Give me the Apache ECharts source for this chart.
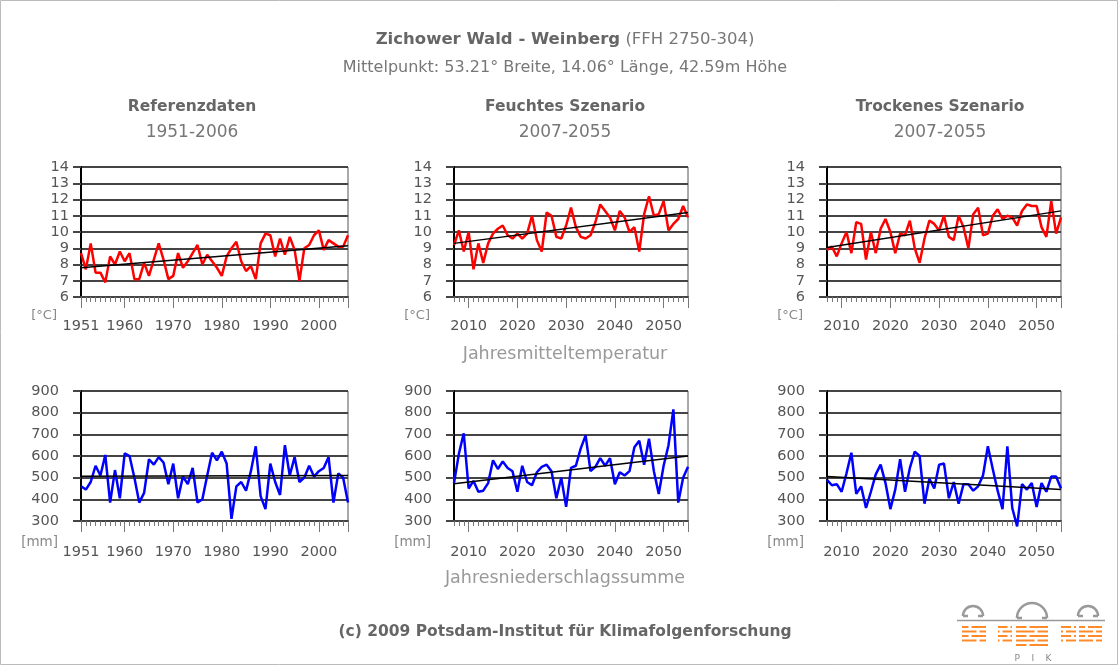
<!DOCTYPE html>
<html>
<head>
<meta charset="utf-8">
<title>Zichower Wald - Weinberg</title>
<script src="https://cdn.jsdelivr.net/npm/echarts@6/dist/echarts.min.js"></script>
<style>
  html, body { margin: 0; padding: 0; background: #fff; }
  #main { width: 1119px; height: 666px; }
</style>
</head>
<body>
<div id="main"></div>
<script>
// Referenzdaten 1951-2006
var refStart = 1951
var refEnd = 2006
var refTemp = [8.7, 7.7, 9.3, 7.5, 7.5, 6.9, 8.5, 8.0, 8.8, 8.2,
  8.7, 7.1, 7.1, 8.1, 7.3, 8.3, 9.3, 8.3, 7.1, 7.3,
  8.7, 7.8, 8.2, 8.7, 9.2, 8.0, 8.6, 8.2, 7.8, 7.3,
  8.5, 9.0, 9.4, 8.2, 7.6, 7.9, 7.1, 9.3, 9.9, 9.8,
  8.5, 9.6, 8.6, 9.7, 8.9, 7.0, 9.0, 9.2, 9.8, 10.1,
  8.9, 9.5, 9.3, 9.1, 9.1, 9.8]
var refPrec = [460, 445, 480, 555, 510, 605, 385, 535, 405, 612,
  600, 500, 385, 430, 585, 560, 595, 570, 470, 565,
  405, 505, 470, 545, 385, 400, 510, 615, 580, 620,
  565, 310, 460, 480, 440, 530, 645, 415, 355, 565,
  480, 420, 650, 510, 595, 480, 500, 555, 505, 530,
  545, 595, 385, 520, 500, 385]

// Szenarien 2007-2055
var scenStart = 2007
var scenEnd = 2055
var wetTemp = [9.2, 10.1, 8.8, 10.0, 7.7, 9.3, 8.1, 9.3, 9.9, 10.2,
  10.4, 9.8, 9.6, 9.9, 9.6, 9.9, 11.0, 9.5, 8.8, 11.2,
  11.0, 9.7, 9.6, 10.4, 11.5, 10.3, 9.7, 9.6, 9.8, 10.6,
  11.7, 11.3, 10.9, 10.1, 11.3, 10.9, 10.0, 10.3, 8.8, 11.1,
  12.2, 11.0, 11.1, 11.9, 10.1, 10.5, 10.8, 11.6, 10.9]
var dryTemp = [8.9, 9.1, 8.5, 9.3, 10.0, 8.7, 10.6, 10.5, 8.3, 10.0,
  8.7, 10.2, 10.8, 10.0, 8.7, 9.9, 9.8, 10.7, 9.0, 8.1,
  9.6, 10.7, 10.5, 10.1, 11.0, 9.7, 9.5, 11.0, 10.3, 9.0,
  11.1, 11.5, 9.8, 9.9, 11.0, 11.4, 10.8, 11.0, 10.9, 10.4,
  11.3, 11.7, 11.6, 11.6, 10.3, 9.7, 11.9, 9.9, 10.9]
var wetPrec = [475, 610, 705, 450, 485, 435, 440, 475, 580, 540,
  575, 545, 530, 435, 555, 480, 465, 525, 550, 560,
  530, 405, 500, 365, 545, 555, 635, 695, 530, 550,
  590, 555, 590, 470, 525, 510, 530, 640, 670, 560,
  680, 530, 425, 555, 650, 815, 385, 500, 550]
var dryPrec = [490, 465, 470, 435, 520, 615, 425, 460, 360, 435,
  515, 560, 475, 355, 445, 585, 435, 545, 620, 600,
  380, 495, 450, 560, 565, 405, 480, 380, 470, 470,
  440, 460, 510, 645, 540, 440, 355, 645, 360, 275,
  470, 445, 475, 365, 475, 435, 505, 505, 450]

// Trendlinien: Wert am Anfang und am Ende
var refTempTrend = [7.8, 9.15]
var wetTempTrend = [9.3, 11.2]
var dryTempTrend = [9.05, 11.3]
var refPrecTrend = [507, 510]
var wetPrecTrend = [472, 600]
var dryPrecTrend = [505, 445]

// Achsenbeschriftung
var refYearLabels = [1951, 1960, 1970, 1980, 1990, 2000]
var refMajorTicks = [1951, 1960, 1970, 1980, 1990, 2000, 2006]
var scenYearLabels = [2010, 2020, 2030, 2040, 2050]
var scenMajorTicks = [2010, 2020, 2030, 2040, 2050, 2055]

var FONT = 'DejaVu Sans'

// reihenfolge: oben links, mitte, rechts, unten links, mitte, rechts
var panels = [
  { start: refStart, end: refEnd, values: refTemp, trend: refTempTrend, labels: refYearLabels, ticks: refMajorTicks, kind: 'temp' },
  { start: scenStart, end: scenEnd, values: wetTemp, trend: wetTempTrend, labels: scenYearLabels, ticks: scenMajorTicks, kind: 'temp' },
  { start: scenStart, end: scenEnd, values: dryTemp, trend: dryTempTrend, labels: scenYearLabels, ticks: scenMajorTicks, kind: 'temp' },
  { start: refStart, end: refEnd, values: refPrec, trend: refPrecTrend, labels: refYearLabels, ticks: refMajorTicks, kind: 'prec' },
  { start: scenStart, end: scenEnd, values: wetPrec, trend: wetPrecTrend, labels: scenYearLabels, ticks: scenMajorTicks, kind: 'prec' },
  { start: scenStart, end: scenEnd, values: dryPrec, trend: dryPrecTrend, labels: scenYearLabels, ticks: scenMajorTicks, kind: 'prec' }
]

var gridLefts = [81, 454, 827]
var gridWidths = [267, 234, 234]
var gridTops = [167, 391]
var yLabelMargin = [12, 22, 22, 22, 22, 22]

var grid = []
var xAxis = []
var yAxis = []
var series = []

panels.forEach(function (p, i) {
  var col = i % 3
  var row = Math.floor(i / 3)
  grid.push({
    left: gridLefts[col],
    top: gridTops[row],
    width: gridWidths[col],
    height: 130,
    show: true,
    borderColor: '#555',
    borderWidth: 1,
    backgroundColor: '#fff'
  })
  // kleine Striche jedes Jahr
  xAxis.push({
    gridIndex: i,
    type: 'value',
    position: 'bottom',
    min: p.start,
    max: p.end,
    interval: 1,
    axisLine: { show: true, lineStyle: { color: '#444', width: 2 } },
    axisTick: { show: true, length: 5, lineStyle: { color: '#777', width: 1 } },
    axisLabel: { show: false },
    splitLine: { show: false }
  })
  // grosse Striche und Jahreszahlen
  xAxis.push({
    gridIndex: i,
    type: 'value',
    position: 'bottom',
    min: p.start,
    max: p.end,
    axisLine: { show: false },
    axisTick: { show: true, length: 11, customValues: p.ticks, lineStyle: { color: '#777', width: 1 } },
    axisLabel: {
      show: true,
      customValues: p.labels,
      formatter: function (v) { return String(v) },
      margin: row === 0 ? 22 : 24,
      fontFamily: FONT,
      fontSize: 14.5,
      color: '#555'
    },
    splitLine: { show: false }
  })
  var isTemp = p.kind === 'temp'
  yAxis.push({
    gridIndex: i,
    type: 'value',
    min: isTemp ? 6 : 300,
    max: isTemp ? 14 : 900,
    interval: isTemp ? 1 : 100,
    axisLine: { show: true, lineStyle: { color: '#000', width: 2 } },
    axisTick: { show: true, length: 8, lineStyle: { color: '#444', width: 2 } },
    axisLabel: { margin: yLabelMargin[i], fontFamily: FONT, fontSize: 14.5, color: '#555' },
    splitLine: { show: true, lineStyle: { color: '#444', width: 2 } }
  })
  series.push({
    type: 'line',
    xAxisIndex: i * 2,
    yAxisIndex: i,
    data: p.values.map(function (v, k) { return [p.start + k, v] }),
    showSymbol: false,
    clip: false,
    lineStyle: { color: isTemp ? '#ff0000' : '#0000ff', width: 2.5 },
    z: 3
  })
  series.push({
    type: 'line',
    xAxisIndex: i * 2,
    yAxisIndex: i,
    data: [[p.start, p.trend[0]], [p.end, p.trend[1]]],
    showSymbol: false,
    lineStyle: { color: '#000', width: 1.5 },
    z: 4
  })
})

// Texte
function txt (x, y, text, size, color, bold, align) {
  return {
    type: 'text',
    x: x,
    y: y,
    style: {
      text: text,
      fill: color,
      fontFamily: FONT,
      fontSize: size,
      fontWeight: bold ? 'bold' : 'normal',
      align: align || 'center',
      verticalAlign: 'middle'
    }
  }
}

var graphic = [
  { type: 'rect', shape: { x: 0.5, y: 0.5, width: 1117, height: 664 }, style: { fill: 'none', stroke: '#bbb', lineWidth: 1 }, silent: true },
  {
    type: 'text',
    x: 565,
    y: 40,
    style: {
      text: '{b|Zichower Wald - Weinberg} (FFH 2750-304)',
      rich: { b: { fontWeight: 'bold', fontFamily: FONT, fontSize: 16.5, fill: '#666' } },
      fill: '#777',
      fontFamily: FONT,
      fontSize: 16.5,
      align: 'center',
      verticalAlign: 'middle'
    }
  },
  txt(565, 68, 'Mittelpunkt: 53.21° Breite, 14.06° Länge, 42.59m Höhe', 16, '#777'),
  txt(192, 107, 'Referenzdaten', 15.5, '#666', true),
  txt(192, 133, '1951-2006', 17, '#777'),
  txt(565, 107, 'Feuchtes Szenario', 15.5, '#666', true),
  txt(565, 133, '2007-2055', 17, '#777'),
  txt(940, 107, 'Trockenes Szenario', 15.5, '#666', true),
  txt(940, 133, '2007-2055', 17, '#777'),
  txt(565, 354, 'Jahresmitteltemperatur', 17.5, '#999'),
  txt(565, 578, 'Jahresniederschlagssumme', 17.5, '#999'),
  txt(565, 632, '(c) 2009 Potsdam-Institut für Klimafolgenforschung', 15.5, '#666', true)
]

// Einheiten
gridLefts.forEach(function (l) {
  graphic.push(txt(l - 24, 316, '[°C]', 13, '#888', false, 'right'))
  graphic.push(txt(l - 23, 542, '[mm]', 13.5, '#888', false, 'right'))
})

// PIK Logo (graue Kuppeln, orange Streifen)
var domes = [[973, 616, 10], [1032, 618, 15], [1088, 616, 10]]
domes.forEach(function (d) {
  graphic.push({
    type: 'arc',
    shape: { cx: d[0], cy: d[1], r: d[2], startAngle: Math.PI, endAngle: Math.PI * 2, clockwise: true },
    style: { stroke: '#999', lineWidth: 2.5, fill: 'none' },
    silent: true
  })
  graphic.push({ type: 'line', shape: { x1: d[0] - d[2], y1: d[1], x2: d[0] - d[2] + 5, y2: d[1] }, style: { stroke: '#999', lineWidth: 2.5 }, silent: true })
  graphic.push({ type: 'line', shape: { x1: d[0] + d[2] - 5, y1: d[1], x2: d[0] + d[2], y2: d[1] }, style: { stroke: '#999', lineWidth: 2.5 }, silent: true })
})
graphic.push({ type: 'line', shape: { x1: 957, y1: 620.5, x2: 1105, y2: 620.5 }, style: { stroke: '#999', lineWidth: 1.5 }, silent: true })
var logoRows = [627, 631.5, 636, 640.5, 645]
var logoBlocks = [[962, 986, 4], [998, 1012, 4], [1016, 1048, 5], [1061, 1076, 4], [1079, 1102, 4]]
logoBlocks.forEach(function (b, bi) {
  for (var r = 0; r < b[2]; r++) {
    var mid = (b[0] + b[1]) / 2 + ((r + bi) % 2 ? 4 : -4)
    graphic.push({ type: 'line', shape: { x1: b[0], y1: logoRows[r], x2: mid - 1.5, y2: logoRows[r] }, style: { stroke: '#ff8a2a', lineWidth: 2 }, silent: true })
    graphic.push({ type: 'line', shape: { x1: mid + 1.5, y1: logoRows[r], x2: b[1], y2: logoRows[r] }, style: { stroke: '#ff8a2a', lineWidth: 2 }, silent: true })
  }
})
graphic.push(txt(1033, 659, 'P    I    K', 9, '#888'))

var myChart = echarts.init(document.getElementById('main'))
myChart.setOption({
  backgroundColor: '#fff',
  animation: false,
  grid: grid,
  xAxis: xAxis,
  yAxis: yAxis,
  series: series,
  graphic: graphic
})
window.addEventListener('resize', function () {
  myChart.resize()
})
</script>
</body>
</html>
